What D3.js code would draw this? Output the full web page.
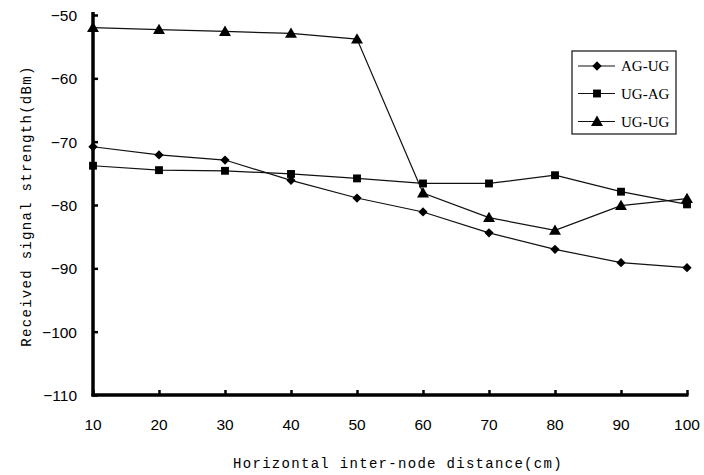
<!DOCTYPE html>
<html>
<head>
<meta charset="utf-8">
<script src="https://cdn.jsdelivr.net/npm/d3@7"></script>
<style>
  body { margin: 0; background: #fff; }
  svg text { fill: #000; }
  .tick-label { font-family: "Liberation Sans", Arial, sans-serif; font-size: 15.5px; }
  .title { font-family: "Liberation Mono", "DejaVu Sans Mono", monospace; font-size: 14px; letter-spacing: 1.3px; }
  .legend-text { font-family: "Liberation Serif", serif; font-size: 15px; }
</style>
</head>
<body>
<svg width="704" height="475"></svg>
<script>
// data
const distances = [10, 20, 30, 40, 50, 60, 70, 80, 90, 100];
const agUg = [-70.8, -72.1, -72.9, -76.1, -78.9, -81.1, -84.4, -87.0, -89.1, -89.9];
const ugAg = [-73.8, -74.5, -74.6, -75.1, -75.8, -76.6, -76.6, -75.3, -77.9, -79.9];
const ugUg = [-52.0, -52.3, -52.6, -52.9, -53.8, -78.1, -82.0, -84.0, -80.1, -79.0];
const yTicks = [-50, -60, -70, -80, -90, -100, -110];
const seriesNames = ["AG-UG", "UG-AG", "UG-UG"];

const svg = d3.select("svg");

const plotLeft = 93, plotRight = 687, plotTop = 15, plotBottom = 395;

const x = d3.scaleLinear().domain([10, 100]).range([plotLeft, plotRight]);
const y = d3.scaleLinear().domain([-110, -50]).range([plotBottom, plotTop]);

// axes
const xAxis = svg.append("g")
    .attr("transform", `translate(0,${plotBottom})`)
    .call(d3.axisTop(x).tickValues(distances).tickSize(5).tickSizeOuter(0).tickFormat(""));
xAxis.select(".domain").attr("stroke-width", 3.5).attr("d", `M${plotLeft - 1.5},0H${plotRight + 1.5}`);
xAxis.selectAll(".tick line").attr("stroke-width", 2.5);

const yAxis = svg.append("g")
    .attr("transform", `translate(${plotLeft},0)`)
    .call(d3.axisRight(y).tickValues(yTicks).tickSize(5).tickSizeOuter(0).tickFormat(""));
yAxis.select(".domain").attr("stroke-width", 3.5).attr("d", `M0,${plotTop - 3}V${plotBottom + 1.5}`);
yAxis.selectAll(".tick line").attr("stroke-width", 2.5);

// tick labels
svg.selectAll(".xlab")
    .data(distances)
    .enter().append("text")
    .attr("class", "tick-label")
    .attr("x", d => x(d))
    .attr("y", 430)
    .attr("text-anchor", "middle")
    .text(d => d);

svg.selectAll(".ylab")
    .data(yTicks)
    .enter().append("text")
    .attr("class", "tick-label")
    .attr("x", 77)
    .attr("y", d => y(d) + 6)
    .attr("text-anchor", "end")
    .text(d => String(d).replace("-", "\u2212"));

// axis titles
svg.append("text")
    .attr("class", "title")
    .attr("x", 398)
    .attr("y", 468)
    .attr("text-anchor", "middle")
    .text("Horizontal inter-node distance(cm)");

svg.append("text")
    .attr("class", "title")
    .attr("transform", "translate(31,206) rotate(-90)")
    .attr("text-anchor", "middle")
    .text("Received signal strength(dBm)");

// series
const symbols = [d3.symbolDiamond2, d3.symbolSquare, d3.symbolTriangle];
const symbolSizes = [55, 62, 62];
const allSeries = [agUg, ugAg, ugUg];

const line = d3.line()
    .x((d, i) => x(distances[i]))
    .y(d => y(d));

allSeries.forEach((vals, k) => {
    svg.append("path")
        .datum(vals)
        .attr("fill", "none")
        .attr("stroke", "#111")
        .attr("stroke-width", 1.2)
        .attr("d", line);
    svg.selectAll(".m" + k)
        .data(vals)
        .enter().append("path")
        .attr("d", d3.symbol().type(symbols[k]).size(symbolSizes[k]))
        .attr("transform", (d, i) => `translate(${x(distances[i])},${y(d) + (k === 2 ? 1 : 0)})`)
        .attr("fill", "#000");
});

// legend
const legend = svg.append("g");
legend.append("rect")
    .attr("x", 572).attr("y", 51)
    .attr("width", 104).attr("height", 83)
    .attr("fill", "#fff").attr("stroke", "#222").attr("stroke-width", 1.3);

const rowY = [66, 93.5, 121.5];
seriesNames.forEach((name, k) => {
    legend.append("line")
        .attr("x1", 578).attr("x2", 615)
        .attr("y1", rowY[k]).attr("y2", rowY[k])
        .attr("stroke", "#111").attr("stroke-width", 1.2);
    legend.append("path")
        .attr("d", d3.symbol().type(symbols[k]).size(symbolSizes[k]))
        .attr("transform", `translate(597,${rowY[k] + (k === 2 ? 1 : 0)})`)
        .attr("fill", "#000");
    legend.append("text")
        .attr("class", "legend-text")
        .attr("x", 621)
        .attr("y", rowY[k] + 5)
        .text(name);
});
</script>
</body>
</html>
